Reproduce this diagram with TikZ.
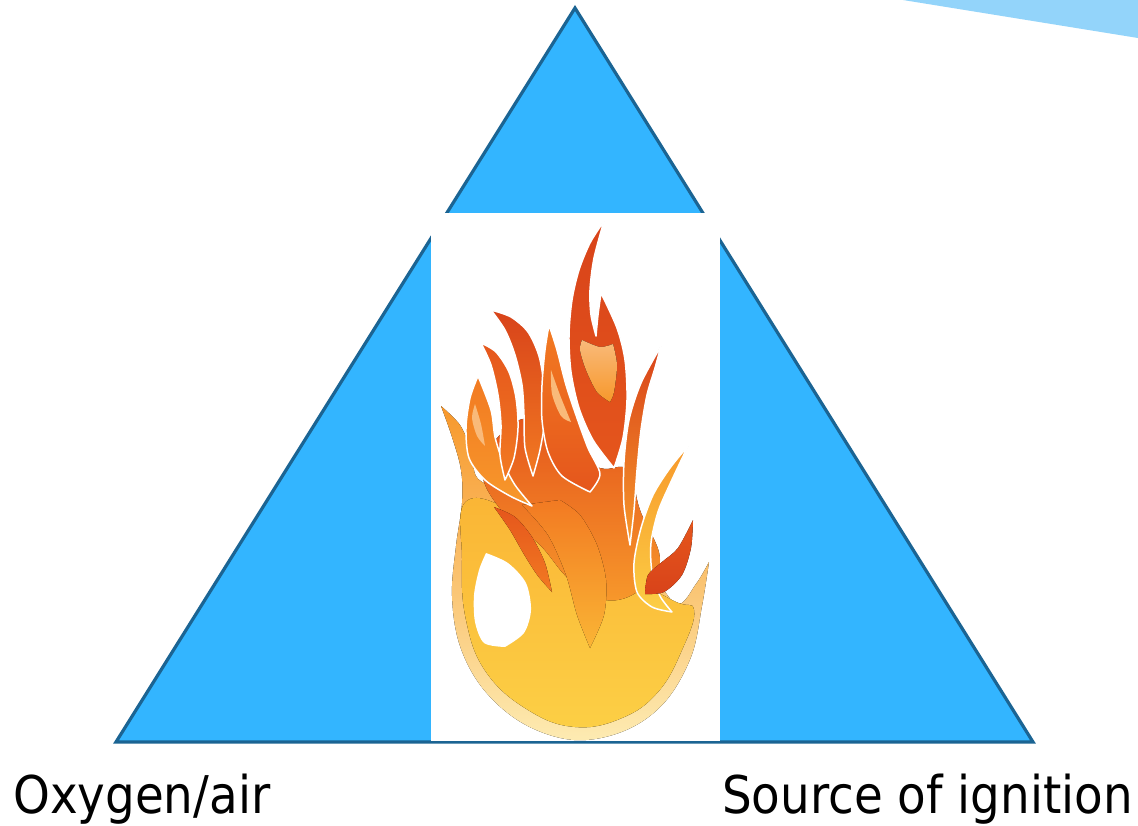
\documentclass[tikz,border=0pt]{standalone}
\usepackage{fontspec}
\newfontfamily\labelfont{DejaVu Sans}[FakeStretch=0.9]
\usetikzlibrary{shadings}

% palette
\definecolor{skyfill}{HTML}{33B5FF}
\definecolor{skyline}{HTML}{1B6493}
\definecolor{wedgeblue}{HTML}{93D4FA}
\definecolor{flred}{HTML}{D8431A}
\definecolor{flredor}{HTML}{E5561C}
\definecolor{florange}{HTML}{F27A22}
\definecolor{florlt}{HTML}{F7982B}
\definecolor{flyelor}{HTML}{FAB535}
\definecolor{flyel}{HTML}{FCCF45}
\definecolor{flpale}{HTML}{FDEBB2}
\definecolor{flhigh}{HTML}{F9BA7A}

\begin{document}
\begin{tikzpicture}[x=1pt,y=-1pt,
  flamegap/.style={draw=white, line width=1.5pt, line join=round},
  labeltext/.style={inner sep=0pt, text=black,
    font=\labelfont\fontsize{52}{60}\selectfont}]

\useasboundingbox (0,0) rectangle (1138,825);
\fill[white] (0,0) rectangle (1138,825);

% pale blue wedge in the upper right corner
\fill[wedgeblue] (903,0) -- (1138,0) -- (1138,38) -- cycle;

% fire triangle
\filldraw[fill=skyfill, draw=skyline, line width=3.2pt, line join=miter]
  (575,8) -- (116,742) -- (1033,742) -- cycle;

% white panel holding the flame
\fill[white] (431,213) rectangle (720,740.5);

% ---------- flame ----------
% outer envelope: left tongue, rounded base, right tongue
\fill[top color=florlt, middle color=flyel, bottom color=flpale]
  plot[smooth, tension=0.6] coordinates {(441,406) (452,437) (461,470) (462,503)
    (456,546) (452,596) (460,646) (484,690) (524,724) (574,740) (624,731)
    (664,703) (691,657) (702,606) (709,562)}
  -- plot[smooth] coordinates {(709,562) (696,584) (676,604) (640,560)
    (560,500) (482,482) (472,452) (460,425) (441,406)}
  -- cycle;

% inner yellow body, leaving a pale rim
\fill[top color=flyelor, bottom color=flyel]
  plot[smooth cycle, tension=0.7] coordinates {(468,500) (462,560) (466,620)
    (486,672) (528,710) (575,727) (622,718) (658,692) (682,650) (694,610)
    (672,600) (600,560) (530,520)};

% central body under the tongues
\fill[top color=flredor, bottom color=florlt]
  plot[smooth cycle, tension=0.7] coordinates {(482,470) (505,430) (535,420)
    (565,450) (600,468) (628,470) (640,510) (660,560) (640,590) (605,600)
    (570,580) (540,545) (505,515)};

% orange swirl through the base
\fill[top color=florange, bottom color=flyelor]
  plot[smooth] coordinates {(522,505) (548,535) (566,575) (577,615) (590,648)}
  -- plot[smooth] coordinates {(590,648) (604,615) (606,580) (597,545) (580,515) (560,500)}
  -- cycle;

% red tongue curling over the opening
\fill[top color=flredor, bottom color=florange]
  plot[smooth] coordinates {(494,507) (515,517) (532,537) (545,563) (552,592)}
  -- plot[smooth] coordinates {(552,592) (538,576) (525,556) (510,530) (494,507)}
  -- cycle;

% white teardrop opening
\fill[white]
  plot[smooth] coordinates {(486,553) (508,563) (526,583) (531,610) (524,633) (505,647)}
  -- plot[smooth] coordinates {(505,647) (484,643) (475,622) (474,595) (479,570) (486,553)}
  -- cycle;

% left tongue L3
\fill[flamegap, top color=florange, bottom color=florlt]
  plot[smooth] coordinates {(478,376) (470,398) (466,428) (469,458) (485,480) (510,496) (532,506)}
  -- plot[smooth] coordinates {(532,506) (515,485) (503,462) (495,437) (491,410) (478,376)}
  -- cycle;
\fill[flhigh]
  plot[smooth] coordinates {(475,404) (481,424) (485,446)}
  -- plot[smooth] coordinates {(485,446) (477,436) (472,418) (475,404)} -- cycle;

% left tongue L2
\fill[flamegap, top color=flredor, bottom color=florange]
  plot[smooth] coordinates {(481,343) (496,352) (509,372) (516,398) (518,428) (514,458) (505,480)}
  -- plot[smooth] coordinates {(505,480) (500,455) (501,425) (498,395) (491,365) (481,343)}
  -- cycle;

% left tongue L1
\fill[flamegap, top color=flred, bottom color=florange]
  plot[smooth] coordinates {(491,310) (511,317) (528,332) (539,356) (544,386) (545,418) (540,450) (533,476)}
  -- plot[smooth] coordinates {(533,476) (525,448) (524,415) (522,385) (515,355) (505,330) (491,310)}
  -- cycle;

% tongue beside the tall one
\fill[flamegap, top color=florange, bottom color=flredor]
  plot[smooth] coordinates {(549,325) (545,350) (542,385) (542,420) (548,452) (562,476) (590,492)}
  -- plot[smooth] coordinates {(590,492) (600,474) (588,448) (577,418) (566,385) (557,350) (549,325)}
  -- cycle;
\fill[flhigh]
  plot[smooth] coordinates {(551,370) (560,395) (571,422)}
  -- plot[smooth] coordinates {(571,422) (561,416) (552,394) (551,370)} -- cycle;

% tall central tongue with its notch
\fill[flamegap, top color=flred, middle color=florange, bottom color=flredor]
  plot[smooth] coordinates {(604,221) (590,243) (579,270) (572,300) (569,335)
    (571,372) (579,408) (593,440) (614,468)}
  -- plot[smooth] coordinates {(614,468) (623,438) (627,400) (625,360) (617,328) (601,293)}
  -- plot[smooth] coordinates {(601,293) (598,315) (596,336)}
  -- plot[smooth] coordinates {(596,336) (591,315) (590,290) (594,258) (604,221)}
  -- cycle;
\fill[top color=flhigh, bottom color=florlt]
  plot[smooth] coordinates {(582,340) (600,347) (613,344)}
  -- plot[smooth] coordinates {(613,344) (617,365) (614,392) (610,402)}
  -- plot[smooth] coordinates {(610,402) (597,392) (586,370) (580,350) (582,340)}
  -- cycle;

% right tongue R1
\fill[flamegap, top color=flred, bottom color=florlt]
  plot[smooth] coordinates {(661,346) (655,368) (647,395) (641,430) (637,470) (634,510) (630,545)}
  -- plot[smooth] coordinates {(630,545) (624,505) (624,462) (629,420) (641,383) (661,346)}
  -- cycle;

% right tongue R2 and its red core
\fill[flamegap, top color=florlt, bottom color=flyel]
  plot[smooth] coordinates {(688,446) (670,468) (653,495) (641,528) (634,563) (637,592) (652,607) (672,612)}
  -- plot[smooth] coordinates {(672,612) (660,596) (652,572) (651,543) (658,512) (670,484) (688,446)}
  -- cycle;
\fill[top color=flredor, bottom color=flred]
  plot[smooth] coordinates {(693,520) (691,548) (682,575) (664,592) (645,594)}
  -- plot[smooth] coordinates {(645,594) (648,575) (662,562) (678,548) (693,520)}
  -- cycle;

% ---------- labels ----------
\node[labeltext, anchor=base west] (oxygen) at (13,813) {Oxygen/air};
\node[labeltext, anchor=base west] (ignition) at (722,813) {Source of ignition};

\end{tikzpicture}
\end{document}
